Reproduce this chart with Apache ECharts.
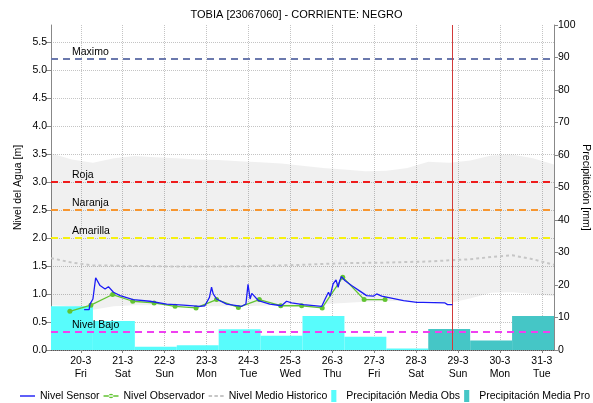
<!DOCTYPE html>
<html>
<head>
<meta charset="utf-8">
<script src="https://cdn.jsdelivr.net/npm/echarts@6/dist/echarts.min.js"></script>
<style>
  html, body { margin: 0; padding: 0; background: #fff; }
  #chart { width: 593px; height: 403px; }
</style>
</head>
<body>
<div id="chart"></div>
<script>
// x runs in day-slots: slot i covers the bar of day i, ticks sit a bit later in the slot
const dayLabels = ['20-3', '21-3', '22-3', '23-3', '24-3', '25-3', '26-3', '27-3', '28-3', '29-3', '30-3', '31-3'];
const dayNames = ['Fri', 'Sat', 'Sun', 'Mon', 'Tue', 'Wed', 'Thu', 'Fri', 'Sat', 'Sun', 'Mon', 'Tue'];
const tickOffset = 0.71;
const nowPos = 9.58;

const levelTicks = [0, 0.5, 1, 1.5, 2, 2.5, 3, 3.5, 4, 4.5, 5, 5.5];

// precipitation per day (mm)
const precipObs = [13.5, 8.9, 1.0, 1.5, 6.4, 4.4, 10.5, 4.1, 0.5, null, null, null];
const precipPro = [null, null, null, null, null, null, null, null, null, 6.5, 2.9, 10.5];

// sensor level [x, m]
const sensor = [
  [0.79, 0.72], [0.91, 0.72], [0.93, 0.82], [1.0, 0.91], [1.066, 1.29], [1.17, 1.15],
  [1.29, 1.09], [1.37, 1.13], [1.49, 1.03], [1.65, 0.97], [1.96, 0.90], [2.36, 0.87],
  [2.76, 0.82], [3.16, 0.80], [3.55, 0.78], [3.67, 0.79], [3.78, 0.94], [3.83, 1.12],
  [3.87, 1.00], [3.95, 0.91], [4.19, 0.82], [4.55, 0.78], [4.65, 0.82], [4.70, 1.17],
  [4.75, 0.91], [4.79, 1.01], [4.84, 0.97], [4.95, 0.88], [5.22, 0.82], [5.50, 0.79],
  [5.62, 0.87], [5.74, 0.84], [6.02, 0.81], [6.46, 0.78], [6.54, 0.91], [6.62, 1.03],
  [6.66, 0.96], [6.73, 1.18], [6.80, 1.25], [6.85, 1.12], [6.89, 1.24], [6.93, 1.31],
  [7.01, 1.24], [7.17, 1.15], [7.37, 1.05], [7.53, 0.97], [7.69, 0.96], [7.77, 1.00],
  [7.89, 0.96], [8.09, 0.93], [8.41, 0.88], [8.73, 0.85], [8.88, 0.85], [8.92, 0.87],
  [9.40, 0.84], [9.46, 0.81], [9.58, 0.81]
];

// observer readings [x, m]
const observer = [
  [0.45, 0.69], [0.95, 0.80], [1.47, 0.99], [1.95, 0.87], [2.46, 0.84], [2.96, 0.78],
  [3.46, 0.75], [3.95, 0.90], [4.47, 0.76], [4.97, 0.90], [5.48, 0.79], [5.98, 0.79],
  [6.47, 0.75], [6.96, 1.30], [7.47, 0.90], [7.97, 0.90]
];

// historic mean [x, m]
const historic = [
  [0, 1.64], [0.5, 1.56], [1, 1.51], [2, 1.50], [3, 1.49], [4, 1.49], [5, 1.50],
  [6, 1.52], [7, 1.55], [8, 1.56], [9, 1.58], [10, 1.62], [10.5, 1.66], [11, 1.69],
  [11.5, 1.62], [12, 1.52]
];

// historic range band, sampled every half slot
const bandX = ['0', '0.5', '1', '1.5', '2', '2.5', '3', '3.5', '4', '4.5', '5', '5.5', '6', '6.5', '7', '7.5', '8', '8.5', '9', '9.5', '10', '10.5', '11', '11.5', '12'];
const bandLow = [0.80, 0.78, 0.72, 0.78, 0.80, 0.80, 0.79, 0.78, 0.78, 0.78, 0.79, 0.80, 0.80, 0.82, 0.84, 0.86, 0.87, 0.88, 0.88, 0.84, 0.92, 1.02, 1.03, 1.00, 0.96];
const bandHigh = [3.51, 3.40, 3.34, 3.42, 3.46, 3.44, 3.42, 3.40, 3.39, 3.37, 3.35, 3.33, 3.29, 3.25, 3.22, 3.19, 3.20, 3.25, 3.36, 3.34, 3.38, 3.47, 3.49, 3.42, 3.31];

const thresholdNames = ['Maximo', 'Roja', 'Naranja', 'Amarilla', 'Nivel Bajo'];
const thresholdValues = [5.2, 3.0, 2.5, 2.0, 0.33];
const thresholdColors = ['#6b79ad', '#ee1c1c', '#f7962f', '#f5f010', '#f040f0'];

const font = 'Liberation Sans';
const tickPos = dayLabels.map((d, i) => i + tickOffset);
const gridLine = { type: 'dotted', color: '#c4c4c4', width: 1 };
const barIcon = 'path://M0,0h6v14h-6z';

const chart = echarts.init(document.getElementById('chart'));

const thresholdLines = thresholdNames.map((n, i) => ({
  name: n,
  yAxis: thresholdValues[i],
  lineStyle: { color: thresholdColors[i], type: [7, 5], width: 2 },
  label: {
    show: true, formatter: n, position: 'insideStartTop', distance: [21, 1],
    color: '#000', fontSize: 10.5, fontFamily: font
  }
}));

const option = {
  animation: false,
  textStyle: { fontFamily: font },
  title: {
    text: 'TOBIA [23067060] - CORRIENTE: NEGRO',
    left: 'center', top: 4,
    textStyle: { fontSize: 11, fontWeight: 'normal', color: '#000', fontFamily: font }
  },
  legend: {
    top: 385, left: 15,
    itemWidth: 15, itemHeight: 12, itemGap: 4,
    textStyle: { fontSize: 10.5, color: '#000', fontFamily: font },
    data: [
      { name: 'Nivel Sensor', icon: 'path://M0,0h15v1.4h-15z' },
      { name: 'Nivel Observador', icon: 'path://M0,2.3h15v1.4h-15zM7.5,0.7a2.3,2.3 0 1,0 0.01,0z' },
      { name: 'Nivel Medio Historico', icon: 'path://M0,0h3v1.6h-3zM5,0h3v1.6h-3zM10,0h3v1.6h-3z' },
      { name: 'Precipitación Media Obs', icon: barIcon },
      { name: 'Precipitación Media Pro', icon: barIcon }
    ]
  },
  grid: { left: 51, right: 39, top: 25, bottom: 53, outerBoundsMode: 'none' },
  xAxis: [{
    type: 'value', min: 0, max: 12,
    axisLine: { lineStyle: { color: '#555', type: 'dotted' } },
    axisTick: { customValues: tickPos, length: 3, lineStyle: { color: '#888' } },
    axisLabel: {
      customValues: tickPos, color: '#000', fontSize: 10.5, lineHeight: 13, margin: 5,
      formatter: v => {
        const i = Math.round(v - tickOffset);
        return dayLabels[i] + '\n' + dayNames[i];
      }
    },
    splitLine: { show: true, lineStyle: gridLine }
  }, {
    type: 'category', data: dayLabels, show: false, boundaryGap: true
  }, {
    type: 'category', data: bandX, show: false, boundaryGap: false
  }],
  yAxis: [{
    type: 'value', min: 0, max: 5.8, position: 'left',
    name: 'Nivel del Agua [m]', nameLocation: 'middle', nameGap: 27, nameMoveOverlap: false,
    nameTextStyle: { color: '#000', fontSize: 10.5 },
    axisLine: { show: true, lineStyle: { color: '#888' } },
    axisTick: { show: true, customValues: levelTicks, length: 5, lineStyle: { color: '#888' } },
    axisLabel: { customValues: levelTicks, color: '#000', fontSize: 10.5, margin: 4, formatter: v => v.toFixed(1) },
    splitLine: { show: true, lineStyle: gridLine }
  }, {
    type: 'value', min: 0, max: 100, interval: 10, position: 'right',
    name: 'Precipitación [mm]', nameLocation: 'middle', nameGap: 26, nameRotate: -90, nameMoveOverlap: false,
    nameTextStyle: { color: '#000', fontSize: 10.5 },
    axisLine: { show: true, lineStyle: { color: '#888' } },
    axisTick: { show: true, length: 4, lineStyle: { color: '#888' } },
    axisLabel: { color: '#000', fontSize: 10.5, margin: 4 },
    splitLine: { show: false }
  }],
  series: [
    {
      name: 'bandLow', type: 'line', xAxisIndex: 2, stack: 'band', symbol: 'none', silent: true,
      data: bandLow, lineStyle: { opacity: 0 }, z: 1
    },
    {
      name: 'bandHigh', type: 'line', xAxisIndex: 2, stack: 'band', symbol: 'none', silent: true,
      data: bandHigh.map((h, i) => +(h - bandLow[i]).toFixed(2)),
      lineStyle: { opacity: 0 }, areaStyle: { color: 'rgba(0,0,0,0.06)', opacity: 1 }, z: 1
    },
    {
      name: 'Precipitación Media Obs', type: 'bar', xAxisIndex: 1, yAxisIndex: 1,
      stack: 'precip', barWidth: '100%', data: precipObs,
      itemStyle: { color: '#58fcfc' }, z: 2
    },
    {
      name: 'Precipitación Media Pro', type: 'bar', xAxisIndex: 1, yAxisIndex: 1,
      stack: 'precip', barWidth: '100%', data: precipPro,
      itemStyle: { color: '#45c6c6' }, z: 2
    },
    {
      name: 'Nivel Medio Historico', type: 'line', symbol: 'none', data: historic,
      lineStyle: { color: '#c6c6c6', type: [3, 3], width: 2 }, itemStyle: { color: '#c6c6c6' }, z: 3
    },
    {
      name: 'Nivel Sensor', type: 'line', symbol: 'none', data: sensor,
      lineStyle: { color: '#1b1bf5', width: 1.3 }, itemStyle: { color: '#1b1bf5' }, z: 5,
      markLine: { symbol: 'none', silent: true, data: thresholdLines }
    },
    {
      name: 'Nivel Observador', type: 'line', symbol: 'circle', symbolSize: 5, data: observer,
      lineStyle: { color: '#62c432', width: 1.3 }, itemStyle: { color: '#62c432' }, z: 4
    },
    {
      name: 'ahora', type: 'line', data: [], z: 6,
      markLine: {
        symbol: 'none', silent: true, label: { show: false },
        lineStyle: { color: '#d23a3a', type: 'solid', width: 1 },
        data: [{ xAxis: nowPos }]
      }
    }
  ]
};

chart.setOption(option);
</script>
</body>
</html>
